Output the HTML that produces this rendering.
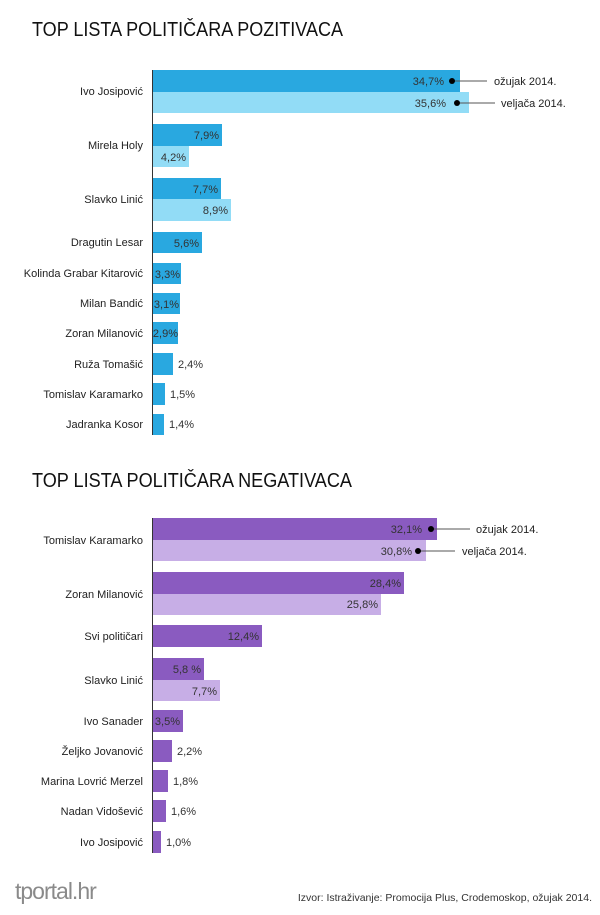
<!DOCTYPE html>
<html><head><meta charset="utf-8"><style>body{margin:0;background:#fff}svg{display:block}</style></head><body>
<svg width="600" height="915" xmlns="http://www.w3.org/2000/svg" font-family="Liberation Sans, sans-serif">
<rect width="600" height="915" fill="#fff"/>
<text x="32" y="36" font-size="20" fill="#111" textLength="311" lengthAdjust="spacingAndGlyphs">TOP LISTA POLITIČARA POZITIVACA</text>
<text x="32" y="487" font-size="20" fill="#111" textLength="320" lengthAdjust="spacingAndGlyphs">TOP LISTA POLITIČARA NEGATIVACA</text>
<g fill="#29a8e0">
<rect x="152" y="70" width="308" height="22"/><rect x="152" y="124" width="70" height="22"/><rect x="152" y="178" width="69" height="21"/>
<rect x="152" y="232" width="50" height="21"/><rect x="152" y="263" width="29" height="21"/><rect x="152" y="293" width="28" height="21"/>
<rect x="152" y="322" width="26" height="22"/><rect x="152" y="353" width="21" height="22"/><rect x="152" y="383" width="13" height="22"/><rect x="152" y="414" width="12" height="21"/>
</g>
<g fill="#92dcf6"><rect x="152" y="92" width="317" height="21"/><rect x="152" y="146" width="37" height="21"/><rect x="152" y="199" width="79" height="22"/></g>
<line x1="152.5" y1="70" x2="152.5" y2="435" stroke="#333"/>
<g fill="#8a5bc0">
<rect x="152" y="518" width="285" height="22"/><rect x="152" y="572" width="252" height="22"/><rect x="152" y="625" width="110" height="22"/><rect x="152" y="658" width="52" height="22"/>
<rect x="152" y="710" width="31" height="22"/><rect x="152" y="740" width="20" height="22"/><rect x="152" y="770" width="16" height="22"/><rect x="152" y="800" width="14" height="22"/><rect x="152" y="831" width="9" height="22"/>
</g>
<g fill="#c7aee6"><rect x="152" y="540" width="274" height="21"/><rect x="152" y="594" width="229" height="21"/><rect x="152" y="680" width="68" height="21"/></g>
<line x1="152.5" y1="518" x2="152.5" y2="853" stroke="#333"/>
<g font-size="11" fill="#222" text-anchor="end">
<text x="143" y="95">Ivo Josipović</text><text x="143" y="149">Mirela Holy</text><text x="143" y="203">Slavko Linić</text>
<text x="143" y="246">Dragutin Lesar</text><text x="143" y="277">Kolinda Grabar Kitarović</text><text x="143" y="307">Milan Bandić</text>
<text x="143" y="337">Zoran Milanović</text><text x="143" y="368">Ruža Tomašić</text><text x="143" y="398">Tomislav Karamarko</text><text x="143" y="428">Jadranka Kosor</text>
<text x="143" y="544">Tomislav Karamarko</text><text x="143" y="598">Zoran Milanović</text><text x="143" y="640">Svi političari</text><text x="143" y="684">Slavko Linić</text>
<text x="143" y="725">Ivo Sanader</text><text x="143" y="755">Željko Jovanović</text><text x="143" y="785">Marina Lovrić Merzel</text><text x="143" y="815">Nadan Vidošević</text><text x="143" y="846">Ivo Josipović</text>
</g>
<g font-size="11" fill="#333" text-anchor="end">
<text x="444" y="85">34,7%</text><text x="446" y="107">35,6%</text><text x="219" y="139">7,9%</text><text x="186" y="161">4,2%</text>
<text x="218" y="193">7,7%</text><text x="228" y="214">8,9%</text><text x="199" y="247">5,6%</text><text x="180" y="278">3,3%</text><text x="179" y="308">3,1%</text><text x="178" y="337">2,9%</text>
<text x="422" y="533">32,1%</text><text x="412" y="555">30,8%</text><text x="401" y="587">28,4%</text><text x="378" y="608">25,8%</text><text x="259" y="640">12,4%</text>
<text x="201" y="673">5,8 %</text><text x="217" y="695">7,7%</text><text x="180" y="725">3,5%</text>
</g>
<g font-size="11" fill="#333">
<text x="178" y="368">2,4%</text><text x="170" y="398">1,5%</text><text x="169" y="428">1,4%</text>
<text x="177" y="755">2,2%</text><text x="173" y="785">1,8%</text><text x="171" y="815">1,6%</text><text x="166" y="846">1,0%</text>
</g>
<g stroke="#555"><line x1="452" y1="81" x2="487" y2="81"/><line x1="457" y1="103" x2="495" y2="103"/><line x1="431" y1="529" x2="470" y2="529"/><line x1="418" y1="551" x2="455" y2="551"/></g>
<g fill="#000"><circle cx="452" cy="81" r="3"/><circle cx="457" cy="103" r="3"/><circle cx="431" cy="529" r="3"/><circle cx="418" cy="551" r="3"/></g>
<g font-size="11" fill="#222"><text x="494" y="85">ožujak 2014.</text><text x="501" y="107">veljača 2014.</text><text x="476" y="533">ožujak 2014.</text><text x="462" y="555">veljača 2014.</text></g>
<text x="15" y="899" font-size="23" fill="#8a8a8a" letter-spacing="-1">tportal.hr</text>
<text x="592" y="901" font-size="10.5" fill="#333" text-anchor="end">Izvor: Istraživanje: Promocija Plus, Crodemoskop, ožujak 2014.</text>
</svg>
</body></html>
